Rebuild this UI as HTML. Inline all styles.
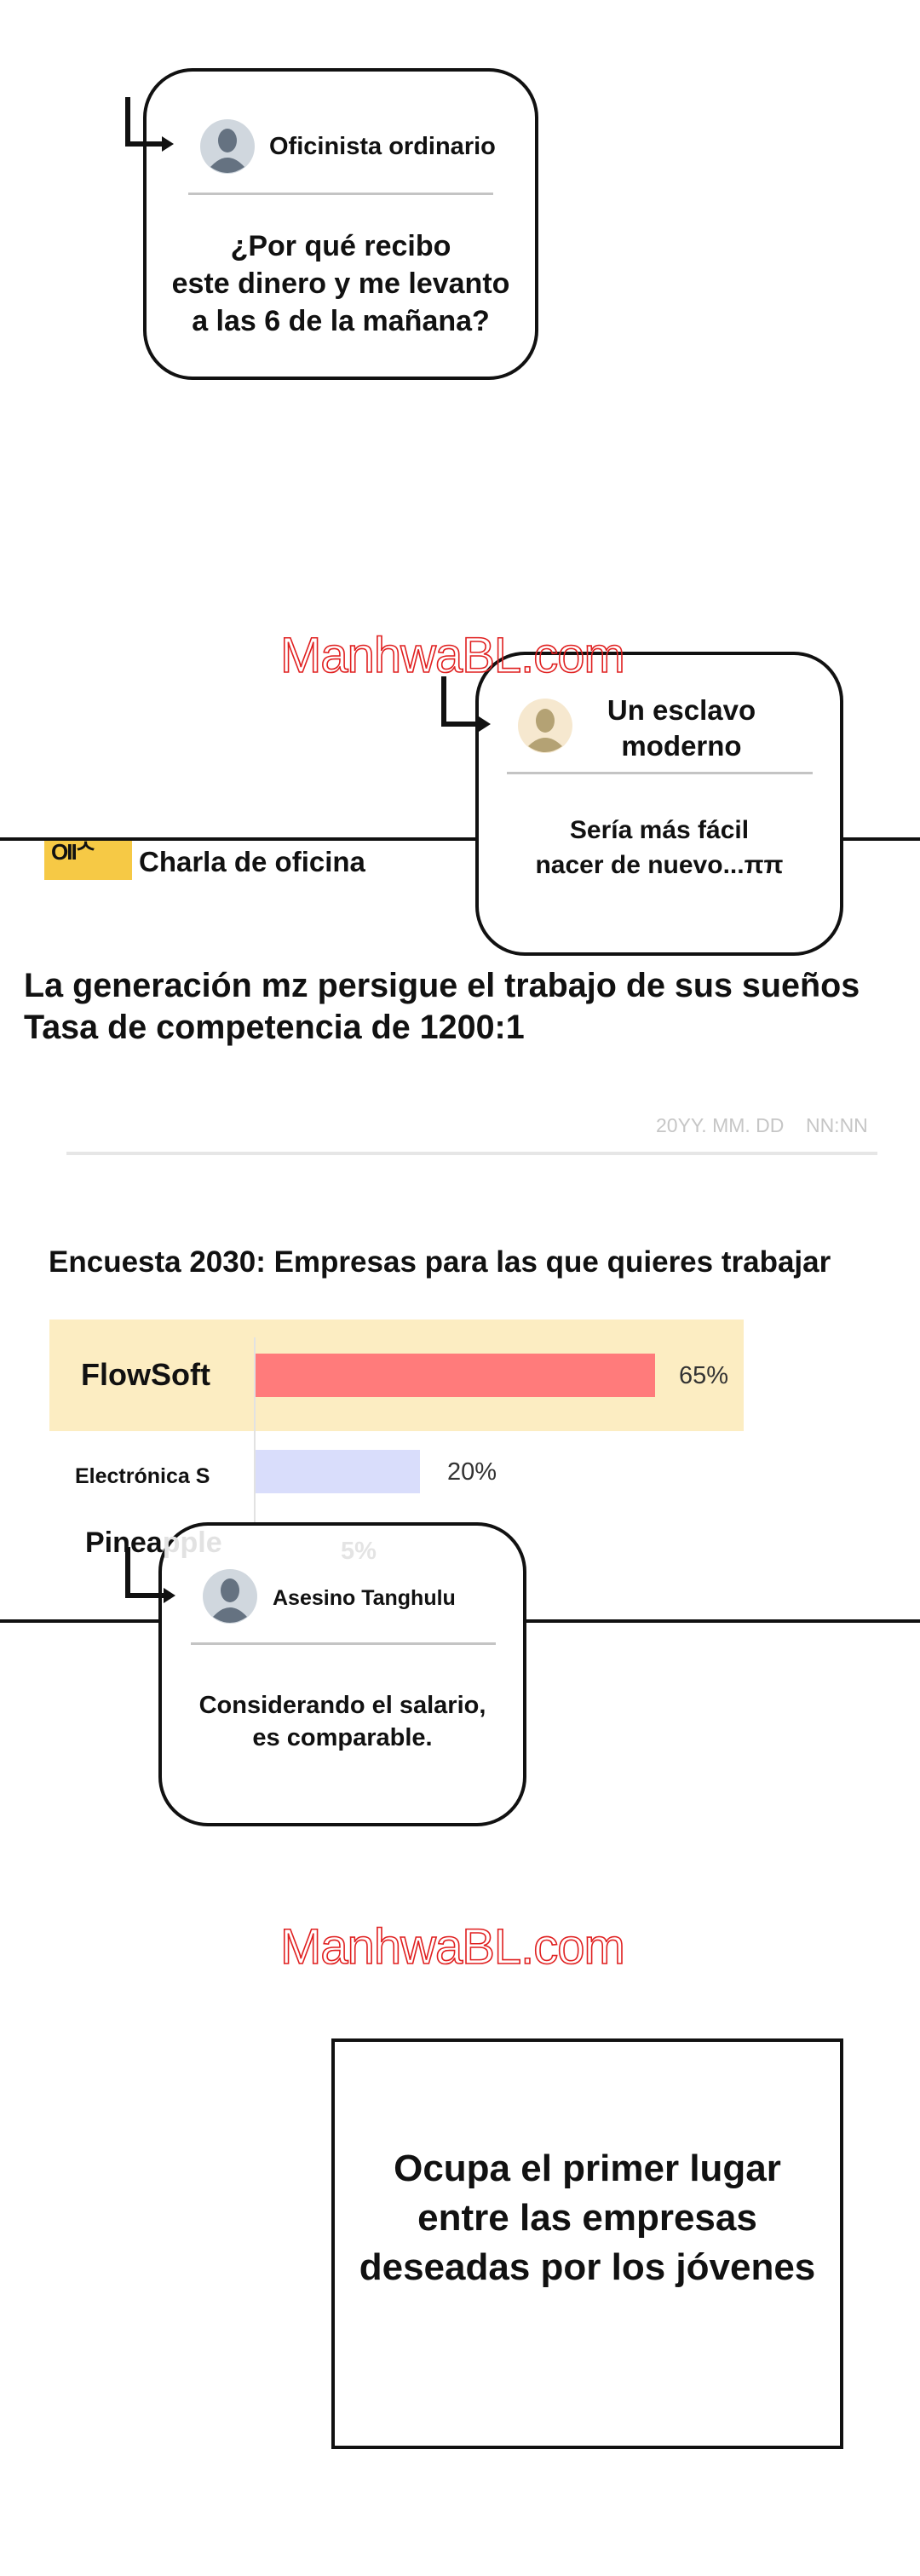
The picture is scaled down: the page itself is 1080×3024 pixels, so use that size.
<!DOCTYPE html>
<html><head><meta charset="utf-8">
<style>
body{margin:0;width:1080px;height:3024px;background:#fff;position:relative;overflow:hidden;font-family:"Liberation Sans",sans-serif;}
.a{position:absolute;}
.t{position:absolute;white-space:nowrap;font-weight:bold;color:#111;}
.c{text-align:center;}
.box{position:absolute;border:4px solid #111;border-radius:58px;box-sizing:border-box;}
.div{position:absolute;height:3px;background:#c4c4c4;}
.wm{position:absolute;font-family:"Liberation Sans",sans-serif;font-size:58px;color:transparent;-webkit-text-stroke:1.6px #e02020;letter-spacing:-1px;white-space:nowrap;z-index:5;}
</style></head><body>

<!-- Box 1 -->
<div class="box" style="left:168px;top:80px;width:464px;height:366px;background:#fff;"></div>
<svg class="a" style="left:140px;top:110px" width="80" height="70"><path d="M10 4 V59 H52" stroke="#111" stroke-width="6" fill="none"/><path d="M50 50 L64 59 L50 68Z" fill="#111"/></svg>
<svg class="a" style="left:235px;top:140px" width="64" height="64"><circle cx="32" cy="32" r="32" fill="#d0d7de"/><ellipse cx="32" cy="25" rx="11" ry="14" fill="#657281"/><path d="M12 56 Q32 34 52 56 Q32 70 12 56Z" fill="#657281"/></svg>
<div class="t" style="left:316px;top:154px;font-size:29px;line-height:36px;">Oficinista ordinario</div>
<div class="div" style="left:221px;top:226px;width:358px;"></div>
<div class="t c" style="left:168px;width:464px;top:267px;font-size:34px;line-height:44px;">¿Por qué recibo<br>este dinero y me levanto<br>a las 6 de la mañana?</div>

<!-- Section 2 -->
<div class="a" style="left:0;top:983px;width:1080px;height:4px;background:#111;"></div>
<div class="a" style="left:52px;top:987px;width:103px;height:46px;background:#f6c945;"></div>
<div class="t" style="left:60px;top:985px;font-size:26px;line-height:30px;letter-spacing:-2px;">OIIᄉ</div>
<div class="t" style="left:163px;top:992px;font-size:33px;line-height:40px;">Charla de oficina</div>

<div class="box" style="left:558px;top:765px;width:432px;height:357px;background:#fff;"></div>
<svg class="a" style="left:510px;top:790px" width="80" height="75"><path d="M11 4 V60 H55" stroke="#111" stroke-width="6" fill="none"/><path d="M52 51 L66 60 L52 69Z" fill="#111"/></svg>
<div class="wm" style="left:329px;top:736px;">ManhwaBL.com</div>
<svg class="a" style="left:608px;top:820px" width="64" height="64"><circle cx="32" cy="32" r="32" fill="#f6e8cf"/><ellipse cx="32" cy="26" rx="11" ry="14" fill="#b4a274"/><path d="M12 56 Q32 36 52 56 Q32 70 12 56Z" fill="#b4a274"/></svg>
<div class="t c" style="left:680px;width:240px;top:813px;font-size:33px;line-height:42px;">Un esclavo<br>moderno</div>
<div class="div" style="left:595px;top:906px;width:359px;"></div>
<div class="t c" style="left:558px;width:432px;top:954px;font-size:30px;line-height:41px;">Sería más fácil<br>nacer de nuevo...ππ</div>

<div class="t" style="left:28px;top:1133px;font-size:39.5px;line-height:49px;">La generación mz persigue el trabajo de sus sueños<br>Tasa de competencia de 1200:1</div>
<div class="a" style="left:770px;top:1307px;font-size:23px;line-height:28px;color:#c6c6c6;white-space:nowrap;">20YY. MM. DD &nbsp;&nbsp; NN:NN</div>
<div class="a" style="left:78px;top:1352px;width:952px;height:4px;background:#e6e6e6;"></div>

<div class="t" style="left:57px;top:1461px;font-size:35px;line-height:42px;">Encuesta 2030: Empresas para las que quieres trabajar</div>
<div class="a" style="left:58px;top:1549px;width:815px;height:131px;background:#fcedc2;"></div>
<div class="a" style="left:298px;top:1570px;width:2px;height:220px;background:#e2e2e2;"></div>
<div class="a" style="left:300px;top:1589px;width:469px;height:51px;background:#ff7b7b;"></div>
<div class="t" style="left:95px;top:1593px;font-size:36px;line-height:42px;">FlowSoft</div>
<div class="a" style="left:797px;top:1598px;font-size:29px;line-height:34px;color:#333;">65%</div>
<div class="a" style="left:300px;top:1702px;width:193px;height:51px;background:#d9ddfb;"></div>
<div class="t" style="left:88px;top:1717px;font-size:25px;line-height:32px;">Electrónica S</div>
<div class="a" style="left:525px;top:1711px;font-size:29px;line-height:34px;color:#333;">20%</div>

<div class="a" style="left:0;top:1901px;width:1080px;height:4px;background:#111;"></div>
<div class="box" style="left:186px;top:1787px;width:432px;height:357px;background:#fff;"></div>
<div class="t" style="left:100px;top:1791px;font-size:34px;line-height:40px;">Pinea<span style="color:#e2e2e2">pple</span></div>
<div class="t" style="left:400px;top:1803px;font-size:29px;line-height:36px;color:#e4e4e4;">5%</div>
<svg class="a" style="left:140px;top:1812px" width="80" height="75"><path d="M10 4 V61 H55" stroke="#111" stroke-width="6" fill="none"/><path d="M52 52 L66 61 L52 70Z" fill="#111"/></svg>
<svg class="a" style="left:238px;top:1842px" width="64" height="64"><circle cx="32" cy="32" r="32" fill="#d0d7de"/><ellipse cx="32" cy="25" rx="11" ry="14" fill="#657281"/><path d="M12 56 Q32 34 52 56 Q32 70 12 56Z" fill="#657281"/></svg>
<div class="t" style="left:320px;top:1860px;font-size:25px;line-height:32px;">Asesino Tanghulu</div>
<div class="div" style="left:224px;top:1928px;width:358px;"></div>
<div class="t c" style="left:186px;width:432px;top:1983px;font-size:29px;line-height:38px;">Considerando el salario,<br>es comparable.</div>

<div class="wm" style="left:329px;top:2252px;">ManhwaBL.com</div>
<div class="a" style="left:389px;top:2393px;width:601px;height:482px;border:4px solid #111;box-sizing:border-box;"></div>
<div class="t c" style="left:389px;width:601px;top:2517px;font-size:44px;line-height:58px;">Ocupa el primer lugar<br>entre las empresas<br>deseadas por los jóvenes</div>

</body></html>
